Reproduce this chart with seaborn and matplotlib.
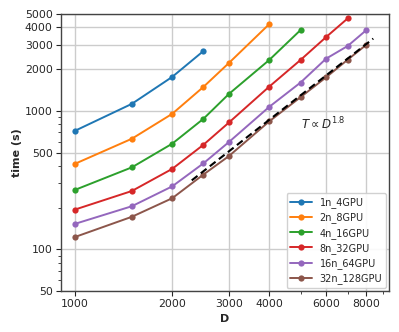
import matplotlib.pyplot as plt
import numpy as np
import pandas as pd
import seaborn as sns
from matplotlib.ticker import FixedLocator, NullFormatter

# values (log-log)
configs = ['1n_4GPU', '2n_8GPU', '4n_16GPU', '8n_32GPU', '16n_64GPU', '32n_128GPU']
d_values = [1000, 1500, 2000, 2500, 3000, 4000, 5000, 6000, 7000, 8000]
t_1n = [718, 1123, 1756, 2700]
t_2n = [415, 629, 951, 1488, 2216, 4225]
t_4n = [269, 391, 579, 876, 1325, 2329, 3828]
t_8n = [194, 264, 381, 569, 824, 1496, 2329, 3406, 4645]
t_16n = [153, 205, 285, 418, 596, 1069, 1600, 2379, 2937, 3828]
t_32n = [123, 172, 234, 347, 472, 840, 1255, 1746, 2339, 3000]
fit_d = [2300, 8400]
fit_t = [315, 3320]

y_ticks = [50, 100, 500, 1000, 2000, 3000, 4000, 5000]
x_ticks = [1000, 2000, 3000, 4000, 6000, 8000]

rows = []
for name, times in zip(configs, [t_1n, t_2n, t_4n, t_8n, t_16n, t_32n]):
    for d, t in zip(d_values, times):
        rows.append({'D': d, 'time': t, 'config': name})
df = pd.DataFrame(rows)

sns.set_style("ticks")
plt.rcParams['font.family'] = ['DejaVu Sans']
plt.rcParams['axes.edgecolor'] = '#444444'

fig, ax = plt.subplots(figsize=(3.99, 3.32), dpi=100)
fig.subplots_adjust(left=0.153, right=0.975, top=0.958, bottom=0.123)

sns.lineplot(data=df, x='D', y='time', hue='config', hue_order=configs,
             palette='tab10', marker='o', markersize=4.5, markeredgewidth=0,
             linewidth=1.4, ax=ax)
ax.plot(fit_d, fit_t, linestyle=(0, (3.5, 2)), color='black', linewidth=1.5, zorder=5)

ax.set_xscale('log')
ax.set_yscale('log')
ax.set_xlim(905, 9400)
ax.set_ylim(50, 5000)
ax.xaxis.set_major_locator(FixedLocator(x_ticks))
ax.xaxis.set_minor_locator(FixedLocator([5000, 7000, 9000]))
ax.xaxis.set_minor_formatter(NullFormatter())
ax.set_xticklabels([str(v) for v in x_ticks])
ax.yaxis.set_major_locator(FixedLocator(y_ticks))
ax.yaxis.set_minor_locator(FixedLocator([60, 70, 80, 90, 200, 300, 400, 600, 700, 800, 900]))
ax.yaxis.set_minor_formatter(NullFormatter())
ax.set_yticklabels([str(v) for v in y_ticks])
ax.tick_params(axis='both', which='major', labelsize=7.8, length=3.5, width=0.8, pad=2.5)
ax.tick_params(axis='both', which='minor', length=2, width=0.6)
ax.grid(True, which='major', color='#cccccc', linewidth=1.0)
for s in ax.spines.values():
    s.set_linewidth(1.0)

ax.set_xlabel('D', fontsize=8, fontweight='bold', labelpad=3)
ax.set_ylabel('time (s)', fontsize=8, fontweight='bold', labelpad=2)
ax.text(5000, 740, r'$T \propto D^{1.8}$', fontsize=8.5)

ax.legend(loc='lower right', fontsize=7, frameon=True, framealpha=0.9,
          borderpad=0.4, labelspacing=0.45, handlelength=2.2,
          handletextpad=0.8, borderaxespad=0.3)

fig.savefig('out.png', dpi=100)
